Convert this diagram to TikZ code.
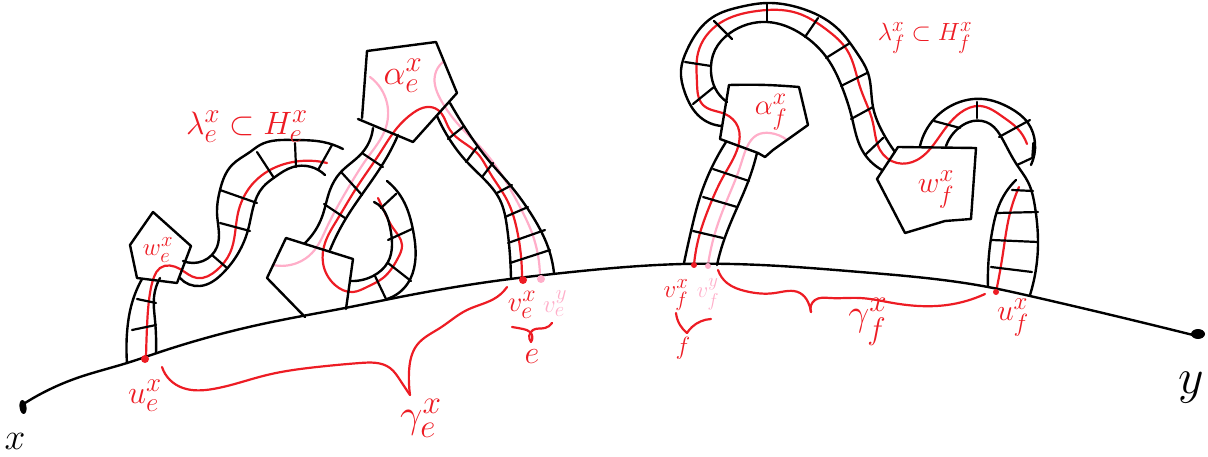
\documentclass[tikz,border=0pt]{standalone}
\usepackage{amsmath,amssymb}
\usepackage{xcolor}
\usetikzlibrary{positioning,shapes.geometric,hobby}
\definecolor{inkred}{RGB}{237,28,36}
\definecolor{inkpink}{RGB}{255,174,201}
\begin{document}
\begin{tikzpicture}[
      x=1pt, y=-1pt,
      use Hobby shortcut,
      ink/.style={black, line width=2.4pt, line cap=round, line join=round},
      bar/.style={black, line width=2.2pt, line cap=round},
      lam/.style={inkred, line width=2.2pt, line cap=round, line join=round},
      lamy/.style={inkpink, line width=2.2pt, line cap=round, line join=round},
      lab/.style={inkred, font=\Huge, inner sep=0pt},
      laby/.style={inkpink, font=\Huge, inner sep=0pt},
      dot/.style={circle, fill=inkred, minimum size=8pt, inner sep=0pt},
      doty/.style={circle, fill=inkpink, minimum size=8pt, inner sep=0pt}
    ]
      \useasboundingbox (0,0) rectangle (1208,457);
      % pink lines
      \draw[lamy] (370,77) .. (387,103) .. (385,130) .. (368,157) .. (347,190) .. (327,227) .. (312,253) .. (297,263) .. (273,265);
      \draw[lamy] (443,62) .. (435,75) .. (442,102) .. (457,123) .. (483,150) .. (503,177) .. (520,207) .. (532,233) .. (540,278);
      \draw[lamy] (708,265) .. (715,233) .. (727,200) .. (740,167) .. (747,147) .. (757,135) .. (770,133) .. (787,140);
      % red lines
      \draw[lam] (146,358) .. (147,327) .. (150,293) .. (154,277) .. (160,268) .. (180,269) .. (197,278) .. (217,270) .. (230,253) .. (238,213) .. (250,187) .. (270,170) .. (293,162) .. (315,161) .. (327,163);
      \draw[lam] (522,277) .. (517,230) .. (507,200) .. (490,173) .. (477,153) .. (450,130) .. (438,110) .. (427,107) .. (413,113) .. (397,128) .. (380,153) .. (357,187) .. (337,220) .. (325,243) .. (323,263) .. (335,285) .. (353,292) .. (367,287) .. (383,278) .. (398,258) .. (402,245) .. (393,228) .. (385,213) .. (378,198);
      \draw[lam] (694,265) .. (700,233) .. (708,210) .. (723,177) .. (738,147) .. (738,127) .. (725,114) .. (703,105) .. (697,83) .. (698,53) .. (720,23) .. (757,11) .. (797,13) .. (827,30) .. (847,50) .. (860,87) .. (873,123) .. (880,150) .. (897,163) .. (917,160) .. (937,140) .. (960,113) .. (980,106) .. (1003,117) .. (1017,128) .. (1027,144);
      \draw[lam] (1019,187) .. (1010,213) .. (1003,253) .. (996,292);
      % main line
      \draw[ink] (25,403) .. (77,378) .. (127,363) .. (157,353) .. (267,323) .. (345,308) .. (400,297) .. (510,279) .. (553,274) .. (683,264) .. (780,266) .. (860,272) .. (988,287) .. (1030,296) .. (1193,335);
      \node[ellipse, fill=black, minimum width=7pt, minimum height=14pt, inner sep=0pt, rotate=8] (xend) at (23,407) {};
      \node[ellipse, fill=black, minimum width=14pt, minimum height=10pt, inner sep=0pt] (yend) at (1198,334) {};
      % polygons
      \draw[ink] (130,245) -- (153,212) -- (191,246) -- (177,283) -- (137,278) -- cycle;
      \draw[ink] (362,118) -- (367,51) -- (436,42) -- (457,93) -- (413,142) -- (358,119);
      \draw[ink] (305,317) -- (267,278) -- (286,238) -- (353,259) -- (346,309);
      \draw[ink] (720,139) -- (729,85) to[bend left=3] (799,87) -- (808,125) -- (773,150) -- (765,157) -- (758,153) -- cycle;
      \draw[ink] (898,147) -- (976,148) -- (971,219) -- (945,221) -- (905,233) -- (877,179) -- cycle;
      % band e, left part
      \draw[ink] (127,363) .. (127,333) .. (132,303) .. (142,279);
      \draw[ink] (156,353) .. (155,320) .. (154,297) .. (160,278);
      \draw[ink] (180,278) .. (200,286) .. (223,273) .. (248,230) .. (263,187) .. (275,177) .. (293,167) .. (325,175);
      \draw[ink] (183,261) .. (203,261) .. (217,247) .. (217,213) .. (220,190) .. (232,165) .. (250,152) .. (260,145) .. (293,140) .. (323,142) .. (343,149);
      % band e, middle part
      \draw[ink] (373,128) .. (362,153) .. (340,173) .. (330,190) .. (322,217) .. (305,243);
      \draw[ink] (398,135) .. (387,157) .. (363,193) .. (345,220) .. (330,250);
      \draw[ink] (350,281) .. (373,276) .. (388,262) .. (392,245) .. (390,227) .. (382,208) .. (374,202);
      \draw[ink] (387,181) .. (403,200) .. (413,230) .. (415,263) .. (408,283) .. (387,299);
      % band e, right part
      \draw[ink] (437,116) .. (450,140) .. (467,162) .. (483,178) .. (500,200) .. (507,227) .. (511,279);
      \draw[ink] (450,103) .. (462,123) .. (490,162) .. (510,185) .. (533,217) .. (548,247) .. (554,273);
      % band f, loop
      \draw[ink] (684,263) .. (692,227) .. (700,197) .. (712,167) .. (726,142);
      \draw[ink] (717,265) .. (723,243) .. (737,208) .. (748,182) .. (757,153);
      \draw[ink] (722,126) .. (700,117) .. (685,93) .. (681,70) .. (687,50) .. (713,17) .. (740,7) .. (767,3) .. (800,8) .. (837,28) .. (857,53) .. (868,73) .. (873,107) .. (883,133) .. (895,152);
      \draw[ink] (727,102) .. (715,88) .. (711,72) .. (715,50) .. (730,33) .. (767,22) .. (803,35) .. (827,58) .. (842,87) .. (852,118) .. (862,150) .. (882,170);
      % band f, right part
      \draw[ink] (920,146) .. (935,118) .. (957,103) .. (983,99) .. (1010,108) .. (1028,123) .. (1035,143) .. (1031,165);
      \draw[ink] (946,146) .. (960,127) .. (973,121) .. (990,124) .. (1003,140) .. (1017,165) .. (1028,182) .. (1035,207) .. (1038,243) .. (1030,295);
      \draw[ink] (1016,180) .. (1000,203) .. (993,227) .. (988,287);
      \draw[black, line width=3.5pt, line cap=round] (1034,143) -- (1033,157);
      % cross bars
      \foreach \a/\b/\c/\d in {137/299/156/303, 132/330/156/325, 220/190/257/203, 220/223/250/231, 212/255/227/268, 257/152/274/178, 295/143/296/167, 332/145/318/170,
        362/153/383/167, 342/173/362/195, 324/204/345/218, 375/276/386/299, 388/263/411/281, 388/240/412/229, 381/208/396/194,
        448/139/463/127, 466/162/477/147, 482/177/493/163, 497/193/512/185, 505/217/528/207, 508/243/545/230, 510/263/550/250,
        713/169/749/181, 703/197/737/207, 693/231/723/238, 693/104/714/87, 685/62/711/66, 714/21/732/39, 767/4/767/22, 818/18/805/37, 850/43/826/58, 867/73/841/86, 873/107/851/119, 883/138/865/155,
        934/121/960/128, 977/102/977/118, 999/137/1030/120, 1017/165/1032/158, 1012/190/1033/191, 997/213/1038/212, 992/240/1038/242, 991/267/1032/272}
        \draw[bar] (\a,\b) -- (\c,\d);
      % end points
      \node[dot] (ue) at (145,359) {};
      \node[dot] (ve) at (523,280) {};
      \node[doty] (vey) at (541,279) {};
      \node[dot, minimum size=6pt] (vf) at (694,265) {};
      \node[doty, minimum size=6pt] (vfy) at (708,266) {};
      \node[dot, minimum size=6pt] (uf) at (996,292) {};
      % braces
      \draw[lam] (162,367) .. (170,380) .. (183,388) .. (213,389) .. (267,375) .. (317,367) .. (360,363) .. (390,368) .. (400,380) .. (410,395);
      \draw[lam] (410,395) .. (409,372) .. (417,345) .. (440,328) .. (467,310) .. (497,297) .. (507,287);
      \draw[lam] (718,270) .. (727,283) .. (745,291) .. (775,293) .. (800,293) .. (808,302) .. (811,312);
      \draw[lam] (811,312) .. (815,300) .. (830,298) .. (860,298) .. (893,303) .. (947,305) .. (985,294);
      \draw[lam] (512,327) .. (523,329) .. (530,332) .. (531,342);
      \draw[lam] (531,342) .. (533,330) .. (545,328) .. (552,323);
      \draw[lam] (676,313) .. (680,325) .. (687,333);
      \draw[lam] (687,333) .. (692,327) .. (711,319);
      % labels
      \node[lab, scale=1.3] (lame) at (247,127) {$\lambda_e^x\subset H_e^x$};
      \node[lab, scale=1.0] (lamf) at (925,38) {$\lambda_f^x\subset H_f^x$};
      \node[lab, scale=1.4] (ae) at (403,76) {$\alpha_e^x$};
      \node[lab, scale=1.15] (af) at (771,112) {$\alpha_f^x$};
      \node[lab] (we) at (158,250) {$w_e^x$};
      \node[lab, scale=1.2] (wf) at (936,190) {$w_f^x$};
      \node[lab, scale=1.3] (ulab) at (145,396) {$u_e^x$};
      \node[lab, scale=1.2] (ufl) at (1013,318) {$u_f^x$};
      \node[lab, scale=1.15] (vel) at (522,305) {$v_e^x$};
      \node[laby] (veyl) at (555,304) {$v_e^y$};
      \node[lab] (vfl) at (676,295) {$v_f^x$};
      \node[laby, scale=0.9] (vfyl) at (708,294) {$v_f^y$};
      \node[lab, scale=1.3] (el) at (532,357) {$e$};
      \node[lab] (fl) at (683,348) {$f$};
      \node[lab, scale=1.6] (ge) at (421,418) {$\gamma_e^x$};
      \node[lab, scale=1.5] (gf) at (868,322) {$\gamma_f^x$};
      \node[font=\Huge, inner sep=0pt, scale=1.5] (xl) at (15,441) {$x$};
      \node[font=\Huge, inner sep=0pt, scale=2] (yl) at (1191,388) {$y$};
    \end{tikzpicture}
\end{document}
